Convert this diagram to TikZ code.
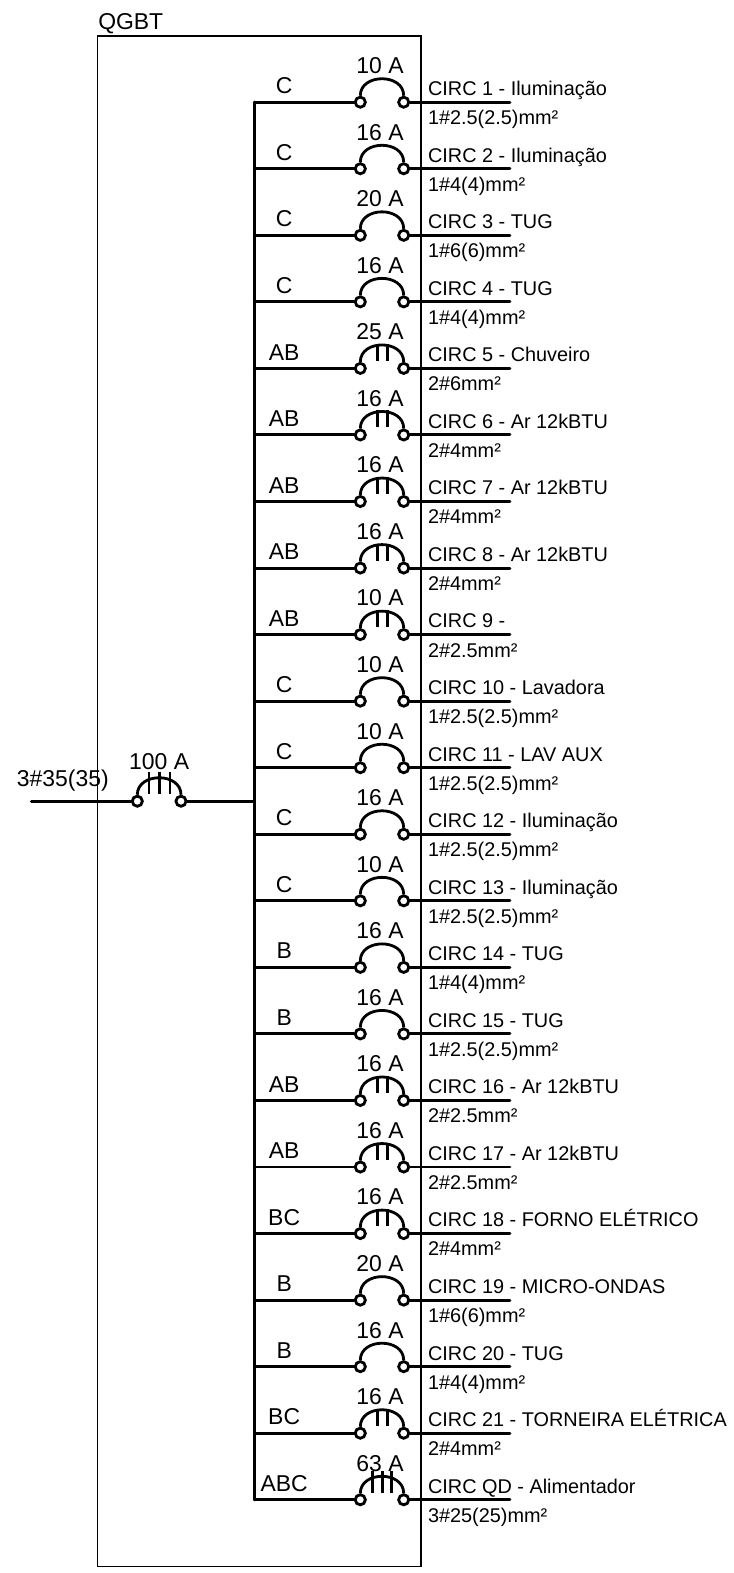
\documentclass[tikz,border=0pt]{standalone}
\usepackage{fontspec}
\setmainfont{Liberation Sans}

\begin{document}
\begin{tikzpicture}[x=0.75pt,y=-0.75pt]
\tikzset{contact/.style = {shape=circle,draw=black,fill=white,line width=2.1pt,inner sep=0pt,minimum size=7.6pt}}
\tikzset{pole/.style = {shape=rectangle,fill=black,inner sep=0pt,minimum width=2.2pt,minimum height=12.75pt}}
\tikzset{polethree/.style = {pole,minimum height=16.5pt}}
\tikzset{wire/.style = {draw=black,line width=2.2pt,line cap=round}}
\tikzset{busbar/.style = {draw=black,line width=2.4pt,line cap=round}}
\tikzset{breaker/.style = {draw=black,line width=2.1pt,out=90,in=90,distance=17pt}}
\tikzset{phase/.style = {pos=0.3,anchor=base,yshift=6.3pt,font=\fontsize{17.2}{19}\selectfont}}
\tikzset{amp/.style = {pos=0.5,anchor=base,xshift=-1.5pt,yshift=3.9pt,font=\fontsize{17.2}{19}\selectfont}}
\tikzset{circuit/.style = {pos=0,anchor=base west,inner xsep=0pt,xshift=12.3pt,yshift=5pt,font=\fontsize{14.9}{16}\selectfont}}
\tikzset{cable/.style = {pos=0,anchor=base west,inner xsep=0pt,xshift=12.3pt,yshift=-16.8pt,font=\fontsize{14.9}{16}\selectfont}}

\useasboundingbox (0,-0.5) rectangle (733,1572.5);

\node[shape=rectangle,draw=black,line width=0.9pt,minimum width=242.5pt,minimum height=1147.5pt,inner sep=0pt] (QGBT) at (259.35,800.6) {};
\node[anchor=base west,inner xsep=0pt,font=\fontsize{17.2}{19}\selectfont] (title) at (98,29) {QGBT};

\coordinate (IN) at (31.3,800.7);
\node[contact] (ML) at (137.3,800.7) {};
\node[contact] (MR) at (181,800.7) {};
\coordinate (MB) at (254.3,800.7);

\coordinate (B1) at (254.3,101.7);
\coordinate (B2) at (254.3,168.25);
\coordinate (B3) at (254.3,234.8);
\coordinate (B4) at (254.3,301.35);
\coordinate (B5) at (254.3,367.9);
\coordinate (B6) at (254.3,434.45);
\coordinate (B7) at (254.3,501);
\coordinate (B8) at (254.3,567.55);
\coordinate (B9) at (254.3,634.1);
\coordinate (B10) at (254.3,700.65);
\coordinate (B11) at (254.3,767.2);
\coordinate (B12) at (254.3,833.75);
\coordinate (B13) at (254.3,900.3);
\coordinate (B14) at (254.3,966.85);
\coordinate (B15) at (254.3,1033.4);
\coordinate (B16) at (254.3,1099.95);
\coordinate (B17) at (254.3,1166.5);
\coordinate (B18) at (254.3,1233.05);
\coordinate (B19) at (254.3,1299.6);
\coordinate (B20) at (254.3,1366.15);
\coordinate (B21) at (254.3,1432.7);
\coordinate (B22) at (254.3,1499.25);

\node[contact] (L1) at (360.3,101.7) {};
\node[contact] (L2) at (360.3,168.25) {};
\node[contact] (L3) at (360.3,234.8) {};
\node[contact] (L4) at (360.3,301.35) {};
\node[contact] (L5) at (360.3,367.9) {};
\node[contact] (L6) at (360.3,434.45) {};
\node[contact] (L7) at (360.3,501) {};
\node[contact] (L8) at (360.3,567.55) {};
\node[contact] (L9) at (360.3,634.1) {};
\node[contact] (L10) at (360.3,700.65) {};
\node[contact] (L11) at (360.3,767.2) {};
\node[contact] (L12) at (360.3,833.75) {};
\node[contact] (L13) at (360.3,900.3) {};
\node[contact] (L14) at (360.3,966.85) {};
\node[contact] (L15) at (360.3,1033.4) {};
\node[contact] (L16) at (360.3,1099.95) {};
\node[contact] (L17) at (360.3,1166.5) {};
\node[contact] (L18) at (360.3,1233.05) {};
\node[contact] (L19) at (360.3,1299.6) {};
\node[contact] (L20) at (360.3,1366.15) {};
\node[contact] (L21) at (360.3,1432.7) {};
\node[contact] (L22) at (360.3,1499.25) {};

\node[contact] (R1) at (403.7,101.7) {};
\node[contact] (R2) at (403.7,168.25) {};
\node[contact] (R3) at (403.7,234.8) {};
\node[contact] (R4) at (403.7,301.35) {};
\node[contact] (R5) at (403.7,367.9) {};
\node[contact] (R6) at (403.7,434.45) {};
\node[contact] (R7) at (403.7,501) {};
\node[contact] (R8) at (403.7,567.55) {};
\node[contact] (R9) at (403.7,634.1) {};
\node[contact] (R10) at (403.7,700.65) {};
\node[contact] (R11) at (403.7,767.2) {};
\node[contact] (R12) at (403.7,833.75) {};
\node[contact] (R13) at (403.7,900.3) {};
\node[contact] (R14) at (403.7,966.85) {};
\node[contact] (R15) at (403.7,1033.4) {};
\node[contact] (R16) at (403.7,1099.95) {};
\node[contact] (R17) at (403.7,1166.5) {};
\node[contact] (R18) at (403.7,1233.05) {};
\node[contact] (R19) at (403.7,1299.6) {};
\node[contact] (R20) at (403.7,1366.15) {};
\node[contact] (R21) at (403.7,1432.7) {};
\node[contact] (R22) at (403.7,1499.25) {};

\coordinate (E1) at (510,101.7);
\coordinate (E2) at (510,168.25);
\coordinate (E3) at (510,234.8);
\coordinate (E4) at (510,301.35);
\coordinate (E5) at (510,367.9);
\coordinate (E6) at (510,434.45);
\coordinate (E7) at (510,501);
\coordinate (E8) at (510,567.55);
\coordinate (E9) at (510,634.1);
\coordinate (E10) at (510,700.65);
\coordinate (E11) at (510,767.2);
\coordinate (E12) at (510,833.75);
\coordinate (E13) at (510,900.3);
\coordinate (E14) at (510,966.85);
\coordinate (E15) at (510,1033.4);
\coordinate (E16) at (510,1099.95);
\coordinate (E17) at (510,1166.5);
\coordinate (E18) at (510,1233.05);
\coordinate (E19) at (510,1299.6);
\coordinate (E20) at (510,1366.15);
\coordinate (E21) at (510,1432.7);
\coordinate (E22) at (510,1499.25);

\node[pole] (P5a) at (377.7,351.9) {};
\node[pole] (P5b) at (387.3,351.9) {};
\node[pole] (P6a) at (377.7,418.45) {};
\node[pole] (P6b) at (387.3,418.45) {};
\node[pole] (P7a) at (377.7,485) {};
\node[pole] (P7b) at (387.3,485) {};
\node[pole] (P8a) at (377.7,551.55) {};
\node[pole] (P8b) at (387.3,551.55) {};
\node[pole] (P9a) at (377.7,618.1) {};
\node[pole] (P9b) at (387.3,618.1) {};
\node[pole] (P16a) at (377.7,1083.95) {};
\node[pole] (P16b) at (387.3,1083.95) {};
\node[pole] (P17a) at (377.7,1150.5) {};
\node[pole] (P17b) at (387.3,1150.5) {};
\node[pole] (P18a) at (377.7,1217.05) {};
\node[pole] (P18b) at (387.3,1217.05) {};
\node[pole] (P21a) at (377.7,1416.7) {};
\node[pole] (P21b) at (387.3,1416.7) {};
\node[polethree] (P22a) at (372.7,1481.25) {};
\node[polethree] (P22b) at (382.2,1481.25) {};
\node[polethree] (P22c) at (391.7,1481.25) {};
\node[polethree] (PMa) at (149,782.7) {};
\node[polethree] (PMb) at (159.5,782.7) {};
\node[polethree] (PMc) at (170,782.7) {};

\path

(IN) edge[wire] node[pos=0,anchor=base west,inner xsep=0pt,xshift=-11.85pt,yshift=11.25pt,font=\fontsize{17.2}{19}\selectfont] (feeder) {3\#35(35)} (ML)
(ML) edge[breaker] node[amp,xshift=1.5pt,yshift=2.4pt] (AM) {100 A} (MR)
(MR) edge[wire] (MB)
(B1) edge[busbar] (B22)

(B1) edge[wire] node[phase] (F1) {C} (L1)
(L1) edge[breaker] node[amp] (A1) {10 A} (R1)
(R1) edge[wire] node[circuit] (C1) {CIRC 1 - Iluminação} node[cable] (W1) {1\#2.5(2.5)mm²} (E1)
(B2) edge[wire] node[phase] (F2) {C} (L2)
(L2) edge[breaker] node[amp] (A2) {16 A} (R2)
(R2) edge[wire] node[circuit] (C2) {CIRC 2 - Iluminação} node[cable] (W2) {1\#4(4)mm²} (E2)
(B3) edge[wire] node[phase] (F3) {C} (L3)
(L3) edge[breaker] node[amp] (A3) {20 A} (R3)
(R3) edge[wire] node[circuit] (C3) {CIRC 3 - TUG} node[cable] (W3) {1\#6(6)mm²} (E3)
(B4) edge[wire] node[phase] (F4) {C} (L4)
(L4) edge[breaker] node[amp] (A4) {16 A} (R4)
(R4) edge[wire] node[circuit] (C4) {CIRC 4 - TUG} node[cable] (W4) {1\#4(4)mm²} (E4)
(B5) edge[wire] node[phase] (F5) {AB} (L5)
(L5) edge[breaker] node[amp] (A5) {25 A} (R5)
(R5) edge[wire] node[circuit] (C5) {CIRC 5 - Chuveiro} node[cable] (W5) {2\#6mm²} (E5)
(B6) edge[wire] node[phase] (F6) {AB} (L6)
(L6) edge[breaker] node[amp] (A6) {16 A} (R6)
(R6) edge[wire] node[circuit] (C6) {CIRC 6 - Ar 12kBTU} node[cable] (W6) {2\#4mm²} (E6)
(B7) edge[wire] node[phase] (F7) {AB} (L7)
(L7) edge[breaker] node[amp] (A7) {16 A} (R7)
(R7) edge[wire] node[circuit] (C7) {CIRC 7 - Ar 12kBTU} node[cable] (W7) {2\#4mm²} (E7)
(B8) edge[wire] node[phase] (F8) {AB} (L8)
(L8) edge[breaker] node[amp] (A8) {16 A} (R8)
(R8) edge[wire] node[circuit] (C8) {CIRC 8 - Ar 12kBTU} node[cable] (W8) {2\#4mm²} (E8)
(B9) edge[wire] node[phase] (F9) {AB} (L9)
(L9) edge[breaker] node[amp] (A9) {10 A} (R9)
(R9) edge[wire] node[circuit] (C9) {CIRC 9 -} node[cable] (W9) {2\#2.5mm²} (E9)
(B10) edge[wire] node[phase] (F10) {C} (L10)
(L10) edge[breaker] node[amp] (A10) {10 A} (R10)
(R10) edge[wire] node[circuit] (C10) {CIRC 10 - Lavadora} node[cable] (W10) {1\#2.5(2.5)mm²} (E10)
(B11) edge[wire] node[phase] (F11) {C} (L11)
(L11) edge[breaker] node[amp] (A11) {10 A} (R11)
(R11) edge[wire] node[circuit] (C11) {CIRC 11 - LAV AUX} node[cable] (W11) {1\#2.5(2.5)mm²} (E11)
(B12) edge[wire] node[phase] (F12) {C} (L12)
(L12) edge[breaker] node[amp] (A12) {16 A} (R12)
(R12) edge[wire] node[circuit] (C12) {CIRC 12 - Iluminação} node[cable] (W12) {1\#2.5(2.5)mm²} (E12)
(B13) edge[wire] node[phase] (F13) {C} (L13)
(L13) edge[breaker] node[amp] (A13) {10 A} (R13)
(R13) edge[wire] node[circuit] (C13) {CIRC 13 - Iluminação} node[cable] (W13) {1\#2.5(2.5)mm²} (E13)
(B14) edge[wire] node[phase] (F14) {B} (L14)
(L14) edge[breaker] node[amp] (A14) {16 A} (R14)
(R14) edge[wire] node[circuit] (C14) {CIRC 14 - TUG} node[cable] (W14) {1\#4(4)mm²} (E14)
(B15) edge[wire] node[phase] (F15) {B} (L15)
(L15) edge[breaker] node[amp] (A15) {16 A} (R15)
(R15) edge[wire] node[circuit] (C15) {CIRC 15 - TUG} node[cable] (W15) {1\#2.5(2.5)mm²} (E15)
(B16) edge[wire] node[phase] (F16) {AB} (L16)
(L16) edge[breaker] node[amp] (A16) {16 A} (R16)
(R16) edge[wire] node[circuit] (C16) {CIRC 16 - Ar 12kBTU} node[cable] (W16) {2\#2.5mm²} (E16)
(B17) edge[wire] node[phase] (F17) {AB} (L17)
(L17) edge[breaker] node[amp] (A17) {16 A} (R17)
(R17) edge[wire] node[circuit] (C17) {CIRC 17 - Ar 12kBTU} node[cable] (W17) {2\#2.5mm²} (E17)
(B18) edge[wire] node[phase] (F18) {BC} (L18)
(L18) edge[breaker] node[amp] (A18) {16 A} (R18)
(R18) edge[wire] node[circuit] (C18) {CIRC 18 - FORNO ELÉTRICO} node[cable] (W18) {2\#4mm²} (E18)
(B19) edge[wire] node[phase] (F19) {B} (L19)
(L19) edge[breaker] node[amp] (A19) {20 A} (R19)
(R19) edge[wire] node[circuit] (C19) {CIRC 19 - MICRO-ONDAS} node[cable] (W19) {1\#6(6)mm²} (E19)
(B20) edge[wire] node[phase] (F20) {B} (L20)
(L20) edge[breaker] node[amp] (A20) {16 A} (R20)
(R20) edge[wire] node[circuit] (C20) {CIRC 20 - TUG} node[cable] (W20) {1\#4(4)mm²} (E20)
(B21) edge[wire] node[phase] (F21) {BC} (L21)
(L21) edge[breaker] node[amp] (A21) {16 A} (R21)
(R21) edge[wire] node[circuit] (C21) {CIRC 21 - TORNEIRA ELÉTRICA} node[cable] (W21) {2\#4mm²} (E21)
(B22) edge[wire] node[phase] (F22) {ABC} (L22)
(L22) edge[breaker] node[amp] (A22) {63 A} (R22)
(R22) edge[wire] node[circuit] (C22) {CIRC QD - Alimentador} node[cable] (W22) {3\#25(25)mm²} (E22)
;

\end{tikzpicture}
\end{document}
